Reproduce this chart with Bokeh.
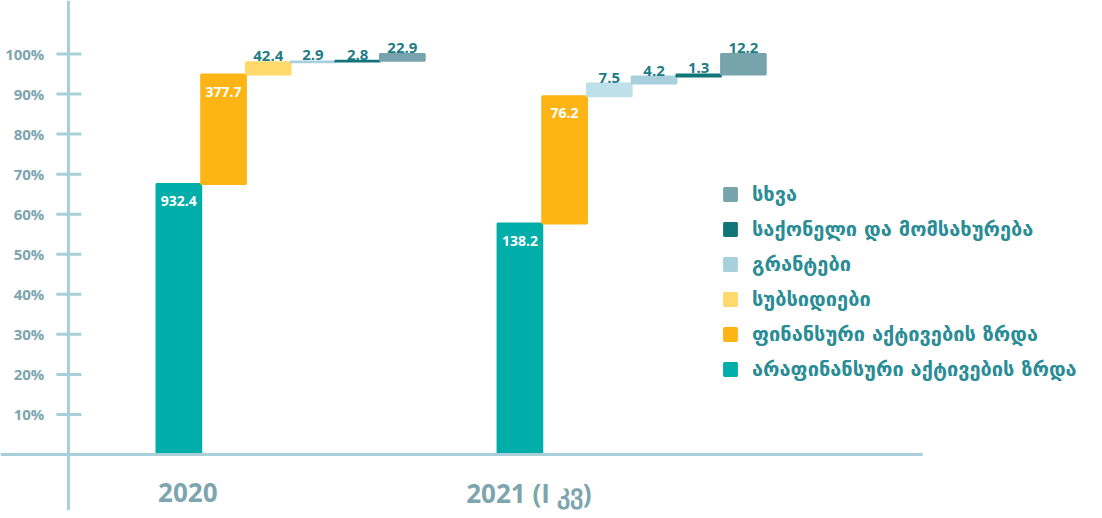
from bokeh.plotting import figure
from bokeh.models import ColumnDataSource, Range1d, Span, Legend, LegendItem
from bokeh.core.properties import value
from bokeh.embed import file_html
from bokeh.resources import INLINE

# ---------------- data ----------------
groups = ["2020", "2021 (I კვ)"]
series = [
    "არაფინანსური აქტივების ზრდა",
    "ფინანსური აქტივების ზრდა",
    "სუბსიდიები",
    "გრანტები",
    "საქონელი და მომსახურება",
    "სხვა",
]
values_2020 = [932.4, 377.7, 42.4, 2.9, 2.8, 22.9]
values_2021 = [138.2, 76.2, 7.5, 4.2, 1.3, 12.2]
colors_2020 = ["#00AEA9", "#FDB515", "#FFD96B", "#A8D0DC", "#117479", "#77A4AC"]
colors_2021 = ["#00AEA9", "#FDB515", "#BEE0E9", "#A8D0DC", "#117479", "#77A4AC"]
tick_values = [10, 20, 30, 40, 50, 60, 70, 80, 90, 100]
tick_labels = [f"{t}%" for t in tick_values]

# ---------------- layout constants ----------------
W, H = 1094, 510
X_START = -3.49
BAR_PX = 44.7
GROUP_GAP = 7.63          # distance between groups, in bar widths
AXIS_X = -1.97            # vertical axis position (bar-width units)
TICK_X0, TICK_X1 = -2.24, -1.68
AXIS_END = 17.14
AXIS_COLOR = "#A9CFDA"
LABEL_GREY = "#7DA5AE"
VALUE_TEAL = "#1F7C85"

# ---------------- build stacked (waterfall) bars ----------------
xs, bottoms, tops, cols, labels, pcts = [], [], [], [], [], []
for gi, (vals, colors) in enumerate([(values_2020, colors_2020), (values_2021, colors_2021)]):
    total = sum(vals)
    cum = 0.0
    for si, v in enumerate(vals):
        pct = v / total * 100
        xs.append(gi * GROUP_GAP + si + 0.5)
        bottoms.append(cum)
        tops.append(cum + pct)
        cols.append(colors[si])
        labels.append(f"{v:.1f}")
        pcts.append(pct)
        cum += pct

src = ColumnDataSource(dict(x=xs, bottom=bottoms, top=tops, color=cols, label=labels))
inside = [i for i, p in enumerate(pcts) if p > 10]
outside = [i for i, p in enumerate(pcts) if p <= 10]
src_in = ColumnDataSource(dict(x=[xs[i] for i in inside], y=[tops[i] for i in inside],
                               label=[labels[i] for i in inside]))
src_out = ColumnDataSource(dict(x=[xs[i] for i in outside], y=[tops[i] for i in outside],
                                label=[labels[i] for i in outside]))

p = figure(width=W, height=H, output_backend="svg", toolbar_location=None,
           x_range=Range1d(X_START, X_START + W / BAR_PX), y_range=Range1d(-13.98, 113.36),
           x_axis_type=None, y_axis_type=None, min_border=0)
p.outline_line_color = None
p.grid.visible = False

bars = p.vbar(x="x", width=1.0, bottom="bottom", top="top", fill_color="color",
              line_color="color", line_width=2, source=src)

# value labels
p.text(x="x", y="y", text="label", source=src_in, text_color="white",
       text_font=value("Open Sans"), text_font_style="bold", text_font_size="14px",
       text_align="center", text_baseline="middle", y_offset=17)
p.text(x="x", y="y", text="label", source=src_out, text_color=VALUE_TEAL,
       text_font=value("Open Sans"), text_font_style="bold", text_font_size="15px",
       text_align="center", text_baseline="bottom", y_offset=-1)

# axes drawn as crossing lines
p.add_layout(Span(location=AXIS_X, dimension="height", line_color=AXIS_COLOR, line_width=3))
p.segment(x0=[X_START], x1=[AXIS_END], y0=[0], y1=[0], line_color=AXIS_COLOR, line_width=3)
p.segment(x0=[TICK_X0] * len(tick_values), x1=[TICK_X1] * len(tick_values),
          y0=tick_values, y1=tick_values, line_color=AXIS_COLOR, line_width=3)
p.text(x=[TICK_X0] * len(tick_values), y=tick_values, text=tick_labels, x_offset=-12,
       text_color=LABEL_GREY, text_font=value("Open Sans"), text_font_style="bold",
       text_font_size="15px", text_align="right", text_baseline="middle")

# category labels
p.text(x=[gi * GROUP_GAP + 0.7 for gi in range(len(groups))], y=[0] * len(groups),
       text=groups, y_offset=38, text_color=LABEL_GREY, text_font=value("Open Sans"),
       text_font_style="bold", text_font_size="26px", text_align="center",
       text_baseline="alphabetic")

# legend (top to bottom: last series first)
items = [LegendItem(label=series[k], renderers=[bars], index=k) for k in reversed(range(len(series)))]
legend = Legend(items=items, location=(722, 129), orientation="vertical",
                glyph_width=16, glyph_height=16, label_height=16, label_standoff=14,
                spacing=11, padding=0, margin=0, border_line_color=None,
                background_fill_alpha=0, label_text_font="DejaVu Sans",
                label_text_font_style="bold", label_text_font_size="20px",
                label_text_color="#2A8C94")
p.add_layout(legend)

open("out.html", "w").write(file_html(p, INLINE))
